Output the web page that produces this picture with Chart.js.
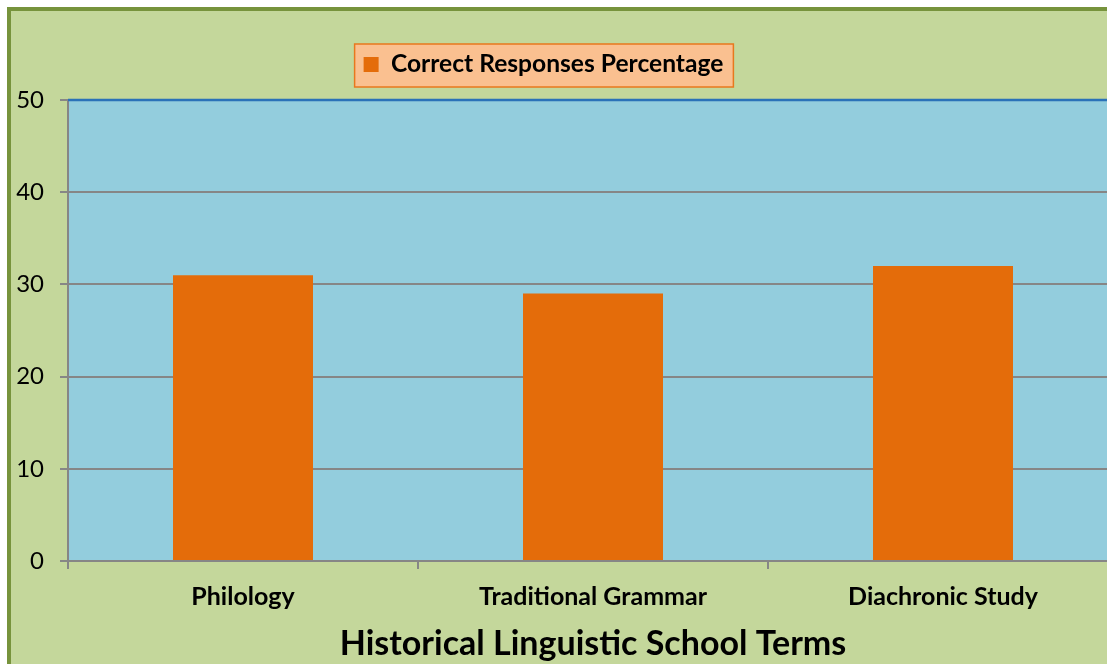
<!DOCTYPE html>
<html>
<head>
<meta charset="utf-8">
<script src="https://cdn.jsdelivr.net/npm/chart.js@4/dist/chart.umd.min.js"></script>
<style>
  body { margin: 0; background: #fff; overflow: hidden; }
  #frame {
    position: absolute; left: 7px; top: 7px;
    width: 1200px; height: 720px;
    border: 4px solid #77933c;
    background: #c4d79b;
  }
  #termsChart { position: absolute; left: -42px; top: 0; }
</style>
</head>
<body>
<div id="frame">
  <canvas id="termsChart" width="1149" height="660"></canvas>
</div>
<script>
// data
var terms = ["Philology", "Traditional Grammar", "Diachronic Study"];
var correctPct = [31, 29, 32];
var yTicks = [0, 10, 20, 30, 40, 50];

var fontName = "Lato, 'Open Sans', sans-serif";
var grey = "#868686";

// paints the plot area, its blue top edge and the legend panel
var chartDecor = {
  id: "chartDecor",
  beforeDraw: function(chart) {
    var ctx = chart.ctx, a = chart.chartArea;
    ctx.save();
    ctx.fillStyle = "#93cddd";
    ctx.fillRect(a.left, a.top, a.right - a.left, a.bottom - a.top);
    var hb = chart.legend.legendHitBoxes[0];
    if (hb) {
      var cy = hb.top + hb.height / 2 + 1;
      ctx.fillStyle = "#fac090";
      ctx.strokeStyle = "#e8781e";
      ctx.lineWidth = 1.5;
      ctx.fillRect(hb.left - 9, cy - 21.5, hb.width + 19, 43);
      ctx.strokeRect(hb.left - 9, cy - 21.5, hb.width + 19, 43);
    }
    ctx.restore();
  },
  beforeDatasetsDraw: function(chart) {
    var ctx = chart.ctx, a = chart.chartArea;
    ctx.save();
    ctx.strokeStyle = "#2a72b8";
    ctx.lineWidth = 2.5;
    ctx.beginPath();
    ctx.moveTo(a.left, a.top);
    ctx.lineTo(a.right, a.top);
    ctx.stroke();
    ctx.restore();
  }
};

var context = document.getElementById("termsChart");

new Chart(context, {
  type: "bar",
  data: {
    labels: terms,
    datasets: [{
      label: "Correct Responses Percentage",
      data: correctPct,
      backgroundColor: "#e46c0a",
      borderWidth: 0,
      barPercentage: 0.4,
      categoryPercentage: 1.0
    }]
  },
  options: {
    responsive: false,
    animation: false,
    layout: { padding: { top: 31.2, left: 0, right: 0, bottom: 0 } },
    plugins: {
      legend: {
        position: "top",
        labels: {
          boxWidth: 15,
          boxHeight: 15,
          padding: 10,
          color: "#000",
          font: { family: fontName, size: 24.6, weight: "bold" }
        }
      },
      // empty spacer between legend and plot
      subtitle: {
        display: true,
        text: "",
        position: "top",
        weight: 500,
        font: { size: 10, lineHeight: 1 },
        padding: { top: 0, bottom: 3.2 }
      },
      tooltip: { enabled: false }
    },
    scales: {
      x: {
        afterFit: function(scale) { scale.height = 110; },
        grid: {
          offset: true,
          drawOnChartArea: false,
          drawTicks: true,
          tickLength: 8,
          color: grey,
          lineWidth: 2
        },
        border: { color: grey, width: 2 },
        ticks: {
          color: "#000",
          padding: 13,
          font: { family: fontName, size: 25, weight: "bold" }
        },
        title: {
          display: true,
          text: "Historical Linguistic School Terms",
          color: "#000",
          font: { family: fontName, size: 34, weight: "bold" },
          padding: { top: 0, bottom: 6.6 }
        }
      },
      y: {
        min: 0,
        max: 50,
        afterFit: function(scale) { scale.width = 99; },
        afterBuildTicks: function(scale) {
          scale.ticks = yTicks.map(function(v) { return { value: v }; });
        },
        grid: {
          color: grey,
          lineWidth: 2,
          tickLength: 8
        },
        border: { color: grey, width: 2 },
        ticks: {
          color: "#000",
          padding: 16,
          font: { family: fontName, size: 24 }
        }
      }
    }
  },
  plugins: [chartDecor]
});
</script>
</body>
</html>
